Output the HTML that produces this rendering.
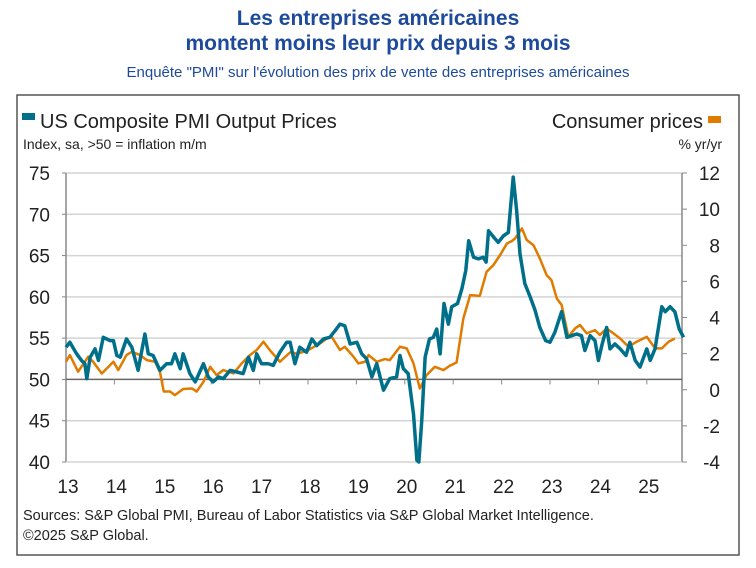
<!DOCTYPE html>
<html><head><meta charset="utf-8"><style>
body{margin:0;background:#fff;width:756px;height:568px;overflow:hidden;font-family:"Liberation Sans",sans-serif}
.t{position:absolute;left:0;width:756px;text-align:center;color:#1d4a9a}
</style></head><body>
<div class="t" style="top:6px;font-size:21px;font-weight:bold;line-height:25px">Les entreprises américaines<br>montent moins leur prix depuis 3 mois</div>
<div class="t" style="top:64px;font-size:15px">Enquête "PMI" sur l'évolution des prix de vente des entreprises américaines</div>
<svg id="c" width="756" height="568" style="position:absolute;left:0;top:0">
<rect x="17" y="95" width="722" height="460" fill="none" stroke="#555" stroke-width="1.5"/>
<rect x="22" y="113" width="13" height="7" fill="#00708a"/>
<text x="40" y="128" font-size="20" fill="#222">US Composite PMI Output Prices</text>
<text x="23" y="149" font-size="14" fill="#222">Index, sa, &gt;50 = inflation m/m</text>
<text x="703" y="128" font-size="20" fill="#222" text-anchor="end">Consumer prices</text>
<rect x="708" y="116" width="13" height="7" fill="#e07b00"/>
<text x="722" y="149" font-size="14" fill="#222" text-anchor="end">% yr/yr</text>
<text x="23" y="520" font-size="14.5" fill="#222">Sources: S&amp;P Global PMI, Bureau of Labor Statistics via S&amp;P Global Market Intelligence.</text>
<text x="23" y="540" font-size="14.5" fill="#222">©2025 S&amp;P Global.</text>
<g id="g"></g>
</svg>
<script>
const leftTicks=[40,45,50,55,60,65,70,75];
const rightTicks=[-4,-2,0,2,4,6,8,10,12];
const years=[13,14,15,16,17,18,19,20,21,22,23,24,25];
const pmiDates=[2013.00,2013.08,2013.22,2013.32,2013.39,2013.43,2013.50,2013.60,2013.67,2013.77,2013.91,2013.98,2014.05,2014.12,2014.25,2014.36,2014.49,2014.63,2014.70,2014.80,2014.94,2015.08,2015.18,2015.25,2015.36,2015.42,2015.56,2015.67,2015.84,2015.94,2016.04,2016.15,2016.25,2016.39,2016.53,2016.66,2016.77,2016.87,2016.94,2017.04,2017.18,2017.28,2017.42,2017.56,2017.63,2017.73,2017.83,2017.97,2018.08,2018.18,2018.32,2018.45,2018.56,2018.66,2018.76,2018.87,2019.01,2019.11,2019.21,2019.32,2019.42,2019.56,2019.69,2019.83,2019.90,2019.97,2020.07,2020.18,2020.25,2020.29,2020.35,2020.42,2020.51,2020.59,2020.66,2020.73,2020.81,2020.90,2020.97,2021.09,2021.18,2021.26,2021.32,2021.42,2021.52,2021.62,2021.68,2021.73,2021.84,2021.93,2022.04,2022.14,2022.24,2022.31,2022.38,2022.48,2022.59,2022.69,2022.79,2022.91,2023.00,2023.10,2023.24,2023.35,2023.45,2023.55,2023.65,2023.72,2023.83,2023.93,2024.00,2024.07,2024.17,2024.24,2024.34,2024.45,2024.57,2024.65,2024.76,2024.86,2025.00,2025.07,2025.17,2025.31,2025.38,2025.48,2025.58,2025.67,2025.76];
const pmiValues=[53.9,54.5,53.1,52.3,51.9,50.1,52.7,53.7,52.3,55.1,54.7,54.7,52.9,52.7,54.9,53.9,51.1,55.5,53.1,52.9,51.1,51.9,51.9,53.1,51.3,53.1,50.7,49.7,51.9,50.3,49.7,50.3,50.1,51.1,50.9,50.7,52.7,51.1,53.1,51.9,51.9,51.7,53.3,54.5,54.5,51.9,53.9,53.3,54.9,54.1,54.9,55.1,55.9,56.7,56.5,54.3,54.5,53.1,52.5,50.3,51.9,48.7,50.1,50.3,52.9,51.3,50.7,45.8,40.2,40.0,45.0,52.7,54.9,55.1,56.1,53.1,59.2,56.7,58.8,59.2,61.0,63.2,66.8,64.8,64.6,64.8,64.2,68.0,67.2,66.6,67.4,67.8,74.5,70.5,65.2,61.6,60.0,58.4,56.3,54.7,54.5,55.7,58.2,55.1,55.3,55.5,55.3,53.5,55.3,54.7,52.3,54.1,56.3,53.7,54.3,53.7,52.9,54.5,52.3,51.5,53.7,52.3,53.7,58.8,58.2,58.8,58.2,56.1,55.1];
const cpiDates=[2013.00,2013.08,2013.25,2013.46,2013.56,2013.74,2013.98,2014.08,2014.25,2014.36,2014.53,2014.67,2014.84,2014.94,2015.02,2015.15,2015.25,2015.42,2015.60,2015.70,2015.84,2015.98,2016.11,2016.25,2016.46,2016.63,2016.80,2016.94,2017.08,2017.21,2017.42,2017.63,2017.77,2017.97,2018.25,2018.39,2018.49,2018.66,2018.76,2018.94,2019.04,2019.18,2019.25,2019.42,2019.59,2019.69,2019.90,2020.04,2020.18,2020.31,2020.45,2020.62,2020.80,2020.93,2021.07,2021.21,2021.35,2021.55,2021.69,2021.83,2021.97,2022.11,2022.21,2022.28,2022.42,2022.52,2022.66,2022.79,2022.93,2023.03,2023.14,2023.24,2023.38,2023.52,2023.62,2023.76,2023.93,2024.03,2024.17,2024.31,2024.45,2024.62,2024.79,2025.00,2025.17,2025.31,2025.45,2025.58];
const cpiValues=[1.55,1.92,1.0,1.83,1.55,0.9,1.55,1.09,1.92,2.1,1.92,1.64,1.55,1.0,-0.1,-0.1,-0.3,0.04,0.07,-0.1,0.44,1.27,0.81,1.09,0.9,1.46,1.92,2.2,2.66,2.2,1.55,2.07,2.0,2.14,2.57,2.84,2.93,2.2,2.38,1.83,1.46,1.55,1.92,1.55,1.7,1.64,2.38,2.29,1.46,0.07,0.81,1.27,1.09,1.33,1.51,3.95,5.24,5.2,6.53,6.9,7.46,8.1,8.23,8.38,8.93,8.29,8.0,7.27,6.35,6.07,5.06,4.69,2.93,3.4,3.58,3.12,3.3,3.03,3.4,3.12,2.84,2.38,2.66,2.93,2.29,2.29,2.66,2.84];

const X0=66,X1=682,Y0=173,Y1=462;
const xs=d=>X0+(d-2013)*48.4;
const yl=v=>Y1-(v-40)/35*(Y1-Y0);
const yr=v=>Y1-(v+4)/16*(Y1-Y0);
const g=document.getElementById('g');
const NS='http://www.w3.org/2000/svg';
function mk(tag,at){const e=document.createElementNS(NS,tag);for(const k in at)e.setAttribute(k,at[k]);g.appendChild(e);return e;}
leftTicks.forEach(v=>{
  const y=yl(v);
  if(v!==40&&v!==50){const l=mk('line',{x1:X0,x2:X1,y1:y,y2:y,stroke:'#d4d4d4','stroke-width':1.5});
  
  }
  const t=mk('text',{x:50,y:y+7,'font-size':19,'text-anchor':'end',fill:'#222'});t.textContent=v;
  
  
  mk('line',{x1:X0-4,x2:X0,y1:y,y2:y,stroke:'#888'});
});
rightTicks.forEach(v=>{
  const y=yr(v);
  mk('line',{x1:X1,x2:X1+5,y1:y,y2:y,stroke:'#888'});
  const t=mk('text',{x:720,y:y+7,'font-size':19,'text-anchor':'end',fill:'#222'});t.textContent=v;
  
  
});
mk('line',{x1:X0,x2:X0,y1:Y0,y2:Y1,stroke:'#888','stroke-width':1.5});
mk('line',{x1:X1,x2:X1,y1:Y0,y2:Y1,stroke:'#888','stroke-width':1.5});
mk('line',{x1:X0,x2:X1,y1:Y1,y2:Y1,stroke:'#d4d4d4','stroke-width':1.5});
const ax=mk('line',{x1:X0,x2:X1,y1:yl(50),y2:yl(50),stroke:'#666','stroke-width':1.5});


years.forEach(yy=>{
  const x=xs(2000+yy);
  if(yy>13)mk('line',{x1:x,x2:x,y1:yl(50),y2:yl(50)+5,stroke:'#888'});
  const t=mk('text',{x:x+2,y:493,'font-size':19,'text-anchor':'middle',fill:'#222'});t.textContent=yy;
  
  
});
const cp=mk('polyline',{points:cpiDates.map((d,i)=>xs(d)+','+yr(cpiValues[i])).join(' '),fill:'none',stroke:'#e07b00','stroke-width':2.5,'stroke-linejoin':'round'});


const pp=mk('polyline',{points:pmiDates.map((d,i)=>xs(d)+','+yl(pmiValues[i])).join(' '),fill:'none',stroke:'#00708a','stroke-width':3.5,'stroke-linejoin':'round'});


</script>
</body></html>
